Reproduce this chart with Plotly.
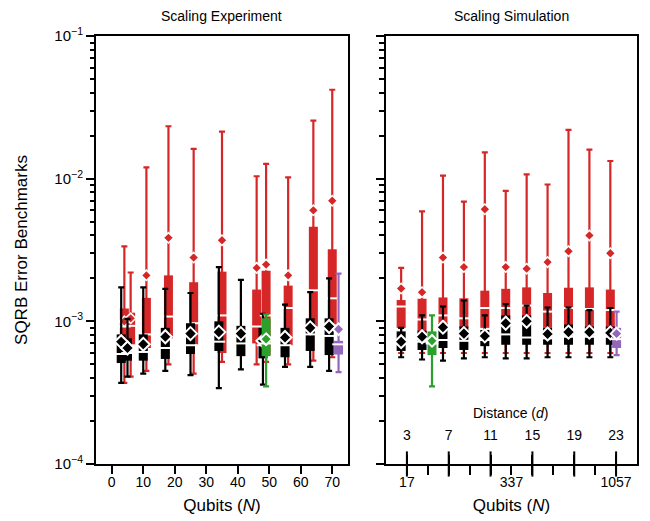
import plotly.graph_objects as go

# ---------------- Data: Scaling Experiment (x = qubits N) ----------------
exp_black_N = [3, 5, 10, 17, 25, 34, 41, 48, 55, 63, 69]
exp_black_lo = [3.7e-4, 4.1e-4, 4.3e-4, 4.5e-4, 4.2e-4, 3.4e-4, 4.6e-4, 3.6e-4, 4.8e-4, 4.8e-4, 4.5e-4]
exp_black_q1 = [5.1e-4, 5.3e-4, 5.3e-4, 5.45e-4, 5.9e-4, 6.2e-4, 5.7e-4, 5.5e-4, 5.6e-4, 6.2e-4, 5.8e-4]
exp_black_med = [5.9e-4, 6.0e-4, 6.1e-4, 6.5e-4, 6.8e-4, 7.2e-4, 7.0e-4, 6.8e-4, 6.8e-4, 8.1e-4, 7.9e-4]
exp_black_q3 = [8.1e-4, 7.6e-4, 8.1e-4, 9.0e-4, 9.7e-4, 1.0e-3, 9.3e-4, 9.0e-4, 9.0e-4, 1.05e-3, 1.05e-3]
exp_black_hi = [1.73e-3, 1.04e-3, 1.73e-3, 1.69e-3, 1.58e-3, 2.4e-3, 1.95e-3, 1.13e-3, 1.31e-3, 1.6e-3, 2.0e-3]
exp_black_mean = [7.2e-4, 6.5e-4, 6.9e-4, 7.8e-4, 8.2e-4, 8.4e-4, 8.2e-4, 7.3e-4, 7.7e-4, 9.0e-4, 9.2e-4]

exp_red_N = [4, 6, 11, 18, 26, 35, 46, 49, 56, 64, 70]
exp_red_lo = [3.7e-4, 4.1e-4, 4.5e-4, 5.0e-4, 4.3e-4, 5.2e-4, 5.0e-4, 5.2e-4, 5.0e-4, 5.3e-4, 5.6e-4]
exp_red_q1 = [7.0e-4, 6.9e-4, 6.5e-4, 7.6e-4, 6.9e-4, 6.0e-4, 7.0e-4, 5.8e-4, 6.8e-4, 9.2e-4, 9.5e-4]
exp_red_med = [9.2e-4, 9.3e-4, 8.1e-4, 1.08e-3, 9.7e-4, 1.1e-3, 9.2e-4, 1.1e-3, 1.24e-3, 1.65e-3, 1.45e-3]
exp_red_q3 = [1.23e-3, 1.15e-3, 1.46e-3, 2.1e-3, 1.88e-3, 2.23e-3, 1.67e-3, 2.26e-3, 1.78e-3, 4.6e-3, 3.2e-3]
exp_red_hi = [3.35e-3, 2.2e-3, 1.2e-2, 2.33e-2, 1.62e-2, 2.14e-2, 1.04e-2, 1.27e-2, 1.02e-2, 2.55e-2, 4.2e-2]
exp_red_mean = [1.0e-3, 1.05e-3, 2.1e-3, 3.85e-3, 2.8e-3, 3.7e-3, 2.37e-3, 2.5e-3, 2.1e-3, 6.0e-3, 7.0e-3]

exp_green_N = [49]
exp_green_lo = [3.5e-4]
exp_green_q1 = [5.7e-4]
exp_green_med = [7.0e-4]
exp_green_q3 = [1.05e-3]
exp_green_hi = [1.12e-3]
exp_green_mean = [7.5e-4]

exp_purple_N = [72]
exp_purple_lo = [4.4e-4]
exp_purple_q1 = [5.85e-4]
exp_purple_med = [6.9e-4]
exp_purple_q3 = [7.3e-4]
exp_purple_hi = [2.16e-3]
exp_purple_mean = [8.8e-4]

# ---------------- Data: Scaling Simulation (x = distance d) ----------------
sim_d = [3, 5, 7, 9, 11, 13, 15, 17, 19, 21, 23]
sim_black_lo = [5.6e-4, 5.4e-4, 5.3e-4, 5.5e-4, 5.6e-4, 5.5e-4, 5.5e-4, 5.6e-4, 5.6e-4, 5.6e-4, 5.6e-4]
sim_black_q1 = [6.2e-4, 6.3e-4, 6.5e-4, 6.3e-4, 6.7e-4, 6.85e-4, 6.85e-4, 6.85e-4, 6.85e-4, 6.85e-4, 6.85e-4]
sim_black_med = [7.0e-4, 7.2e-4, 7.4e-4, 7.3e-4, 7.4e-4, 8.1e-4, 7.7e-4, 7.6e-4, 7.8e-4, 7.8e-4, 7.8e-4]
sim_black_q3 = [8.5e-4, 8.6e-4, 9.7e-4, 9.2e-4, 8.7e-4, 1.1e-3, 1.1e-3, 9.0e-4, 9.5e-4, 9.2e-4, 9.2e-4]
sim_black_hi = [9.0e-4, 1.1e-3, 1.27e-3, 1.4e-3, 1.1e-3, 1.32e-3, 1.29e-3, 1.25e-3, 1.25e-3, 1.2e-3, 1.24e-3]
sim_black_mean = [7.2e-4, 7.8e-4, 9.1e-4, 8.2e-4, 7.9e-4, 9.7e-4, 1.0e-3, 8.15e-4, 8.4e-4, 8.4e-4, 8.3e-4]

sim_red_lo = [6.0e-4] * 11
sim_red_q1 = [9.0e-4, 8.1e-4, 8.7e-4, 9.0e-4, 9.0e-4, 9.5e-4, 9.5e-4, 9.0e-4, 9.0e-4, 9.0e-4, 9.0e-4]
sim_red_med = [1.27e-3, 1.03e-3, 1.1e-3, 1.05e-3, 1.24e-3, 1.24e-3, 1.29e-3, 1.17e-3, 1.24e-3, 1.22e-3, 1.2e-3]
sim_red_q3 = [1.41e-3, 1.44e-3, 1.47e-3, 1.45e-3, 1.64e-3, 1.69e-3, 1.73e-3, 1.58e-3, 1.72e-3, 1.73e-3, 1.67e-3]
sim_red_hi = [2.37e-3, 5.9e-3, 1.05e-2, 6.9e-3, 1.53e-2, 8.2e-3, 1.07e-2, 9.1e-3, 2.2e-2, 1.6e-2, 1.33e-2]
sim_red_mean = [1.7e-3, 1.6e-3, 2.8e-3, 2.4e-3, 6.1e-3, 2.4e-3, 2.34e-3, 2.6e-3, 3.1e-3, 4.0e-3, 3.0e-3]

sim_green_d = [5]
sim_green_lo = [3.5e-4]
sim_green_q1 = [5.8e-4]
sim_green_med = [7.0e-4]
sim_green_q3 = [8.5e-4]
sim_green_hi = [1.1e-3]
sim_green_mean = [7.3e-4]

sim_purple_d = [23]
sim_purple_lo = [5.8e-4]
sim_purple_q1 = [6.5e-4]
sim_purple_med = [7.5e-4]
sim_purple_q3 = [9.0e-4]
sim_purple_hi = [1.17e-3]
sim_purple_mean = [8.2e-4]

# Axis tick data
exp_xticks = [0, 10, 20, 30, 40, 50, 60, 70]
dist_major = [3, 7, 11, 15, 19, 23]
dist_all = [3, 5, 7, 9, 11, 13, 15, 17, 19, 21, 23]
qubit_label_d = [3, 13, 23]
y_decades = [1e-4, 1e-3, 1e-2, 1e-1]
y_labels = ["10<sup>−4</sup>", "10<sup>−3</sup>", "10<sup>−2</sup>", "10<sup>−1</sup>"]

RED = "#d62728"
BLACK = "#000000"
GREEN = "#2ca02c"
PURPLE = "#9467bd"
FONT = "Arial, 'Liberation Sans', sans-serif"

fig = go.Figure()


def add_glyph(xs, lo, q1, med, q3, hi, mean, color, xa, ya,
              box_px=9, dsize=9, dline=2):
    # whiskers with caps
    fig.add_trace(go.Scatter(
        x=xs, y=med, mode="markers", marker=dict(size=1, opacity=0),
        error_y=dict(type="data", symmetric=False,
                     array=[h - m for h, m in zip(hi, med)],
                     arrayminus=[m - l for m, l in zip(med, lo)],
                     color=color, thickness=2.2, width=3),
        xaxis=xa, yaxis=ya, showlegend=False, hoverinfo="skip"))
    # boxes (q1..q3)
    bx, by = [], []
    for x, a, b in zip(xs, q1, q3):
        bx += [x, x, None]
        by += [a, b, None]
    fig.add_trace(go.Scatter(
        x=bx, y=by, mode="lines", line=dict(color=color, width=box_px),
        xaxis=xa, yaxis=ya, showlegend=False, hoverinfo="skip"))
    # median lines
    fig.add_trace(go.Scatter(
        x=xs, y=med, mode="markers",
        marker=dict(symbol="line-ew", size=box_px, line=dict(color="white", width=2)),
        xaxis=xa, yaxis=ya, showlegend=False, hoverinfo="skip"))
    # mean diamonds
    fig.add_trace(go.Scatter(
        x=xs, y=mean, mode="markers",
        marker=dict(symbol="diamond", size=dsize, color=color,
                    line=dict(color="white", width=dline)),
        xaxis=xa, yaxis=ya, showlegend=False, hoverinfo="skip"))


# Left panel
add_glyph(exp_red_N, exp_red_lo, exp_red_q1, exp_red_med, exp_red_q3, exp_red_hi,
          exp_red_mean, RED, "x", "y", dsize=8, dline=1.5)
add_glyph(exp_black_N, exp_black_lo, exp_black_q1, exp_black_med, exp_black_q3,
          exp_black_hi, exp_black_mean, BLACK, "x", "y", dsize=10, dline=2)
add_glyph(exp_green_N, exp_green_lo, exp_green_q1, exp_green_med, exp_green_q3,
          exp_green_hi, exp_green_mean, GREEN, "x", "y", dsize=9, dline=2)
add_glyph(exp_purple_N, exp_purple_lo, exp_purple_q1, exp_purple_med, exp_purple_q3,
          exp_purple_hi, exp_purple_mean, PURPLE, "x", "y", dsize=9, dline=2)

# Right panel (dodged around each distance)
black_dodge = -0.55
sim_x = [d + black_dodge for d in sim_d]
add_glyph(sim_x, sim_red_lo, sim_red_q1, sim_red_med, sim_red_q3, sim_red_hi,
          sim_red_mean, RED, "x2", "y2", dsize=8, dline=1.5)
add_glyph(sim_x, sim_black_lo, sim_black_q1, sim_black_med, sim_black_q3,
          sim_black_hi, sim_black_mean, BLACK, "x2", "y2", dsize=10, dline=2)
add_glyph([d + 0.4 for d in sim_green_d], sim_green_lo, sim_green_q1, sim_green_med,
          sim_green_q3, sim_green_hi, sim_green_mean, GREEN, "x2", "y2", dsize=9, dline=2)
add_glyph([d + 0.05 for d in sim_purple_d], sim_purple_lo, sim_purple_q1, sim_purple_med,
          sim_purple_q3, sim_purple_hi, sim_purple_mean, PURPLE, "x2", "y2", dsize=9, dline=2)

# y axis bounds (log range)
y_range_log = [-4, -1]

# Distance ticks crossing the bottom axis line (drawn at the axis' lower bound)
fig.add_trace(go.Scatter(
    x=dist_major, y=[10 ** y_range_log[0]] * len(dist_major), mode="markers",
    marker=dict(symbol="line-ns", size=18, line=dict(color="black", width=2)),
    cliponaxis=False, xaxis="x2", yaxis="y2", showlegend=False, hoverinfo="skip"))

# invisible trace to activate the distance axis x3
fig.add_trace(go.Scatter(x=[sim_d[0]], y=[1e-3], mode="markers",
                         marker=dict(opacity=0), xaxis="x3", yaxis="y2",
                         showlegend=False, hoverinfo="skip"))

minor_vals = [m * 10 ** e for e in range(-4, -1) for m in range(2, 10)]

yaxis_common = dict(
    type="log", range=y_range_log, showgrid=False, zeroline=False,
    showline=True, linecolor="black", linewidth=2, mirror=True,
    ticks="outside", ticklen=8, tickwidth=2, tickcolor="black",
    tickmode="array", tickvals=y_decades,
    tickfont=dict(size=15, color="black"),
    minor=dict(tickmode="array", tickvals=minor_vals, ticks="outside",
               ticklen=4.5, tickwidth=1.5, tickcolor="black"),
)

qubit_ticks = [d for d in dist_all if d in qubit_label_d]
minor_dist = [d for d in dist_all if d not in qubit_label_d]

fig.update_layout(
    width=650, height=521,
    margin=dict(l=88, r=21, t=28, b=65),
    paper_bgcolor="white", plot_bgcolor="white",
    font=dict(family=FONT, size=14, color="black"),
    showlegend=False,
    xaxis=dict(domain=[0, 0.4658], range=[-5, 75], showgrid=False, zeroline=False,
               showline=True, linecolor="black", linewidth=2, mirror=True,
               ticks="outside", ticklen=8, tickwidth=2, tickcolor="black",
               tickmode="array", tickvals=exp_xticks, ticklabelstandoff=-4,
               tickfont=dict(size=14, color="black"),
               title=dict(text="Qubits (<i>N</i>)", standoff=10)),
    yaxis=dict(**yaxis_common, ticktext=y_labels,
               title=dict(text="SQRB Error Benchmarks", standoff=22)),
    xaxis2=dict(domain=[0.536, 1.0], range=[1, 25], anchor="y2", showgrid=False,
                zeroline=False, showline=True, linecolor="black", linewidth=2,
                mirror=True, ticks="outside", ticklen=9, tickwidth=2,
                tickcolor="black", tickmode="array", tickvals=qubit_ticks,
                ticktext=[str(2 * d * d - 1) for d in qubit_ticks],
                ticklabelstandoff=-5, tickfont=dict(size=14, color="black"),
                minor=dict(tickmode="array", tickvals=minor_dist, ticks="outside",
                           ticklen=9, tickwidth=2, tickcolor="black"),
                title=dict(text="Qubits (<i>N</i>)", standoff=10)),
    # distance axis: labels on the bottom edge, pointing up into the panel
    xaxis3=dict(overlaying="x2", anchor="free", position=0, side="top",
                range=[1, 25], showgrid=False, zeroline=False, showline=False,
                ticks="outside", ticklen=9, tickwidth=2, tickcolor="black",
                tickmode="array", tickvals=dist_major,
                ticktext=[str(d) for d in dist_major], ticklabelstandoff=9,
                tickfont=dict(size=14, color="black")),
    yaxis2=dict(**yaxis_common, anchor="x2", showticklabels=False),
    annotations=[
        dict(text="Scaling Experiment", xref="x domain", yref="paper", x=0.5, y=1,
             yanchor="bottom", yshift=10, showarrow=False, font=dict(size=14)),
        dict(text="Scaling Simulation", xref="x2 domain", yref="paper", x=0.5, y=1,
             yanchor="bottom", yshift=10, showarrow=False, font=dict(size=14)),
        dict(text="Distance (<i>d</i>)", xref="x2 domain", yref="paper", x=0.5, y=0.095,
             showarrow=False, font=dict(size=14)),
    ],
)

fig.write_html("out.html")
